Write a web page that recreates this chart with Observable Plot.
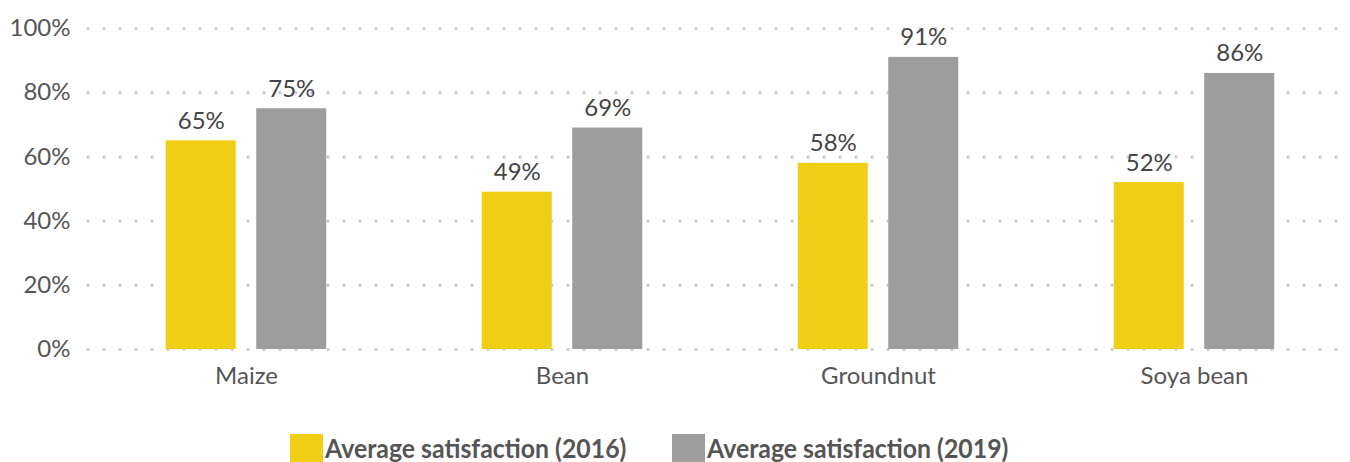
<!DOCTYPE html>
<html>
<head>
<meta charset="utf-8">
<script src="https://cdn.jsdelivr.net/npm/d3@7"></script>
<script src="https://cdn.jsdelivr.net/npm/@observablehq/plot@0.6"></script>
<style>
  html, body { margin: 0; padding: 0; background: #fff; }
  #chart { width: 1350px; }
  .legend { display: flex; align-items: flex-start; padding-left: 290px; margin-top: 24px; font-family: Lato, sans-serif; font-weight: bold; font-size: 27px; color: #555; }
  .legend .item { display: flex; align-items: center; width: 382px; white-space: nowrap; }
  .legend .sw { width: 33px; height: 28px; margin-right: 2px; flex: none; }
  .legend .tx { display: inline-block; transform: scaleX(0.92); transform-origin: left center; line-height: 28px; }
</style>
</head>
<body>
<div id="chart"></div>
<script>
const crops = ["Maize", "Bean", "Groundnut", "Soya bean"];
const series = ["Average satisfaction (2016)", "Average satisfaction (2019)"];
const values2016 = [65, 49, 58, 52];
const values2019 = [75, 69, 91, 86];
const colors = ["#F0CE15", "#9D9D9D"];
const yTicks = [0, 20, 40, 60, 80, 100];

const rows = [];
crops.forEach((c, i) => {
  rows.push({crop: c, series: series[0], value: values2016[i]});
  rows.push({crop: c, series: series[1], value: values2019[i]});
});
const r2016 = rows.filter(d => d.series === series[0]);
const r2019 = rows.filter(d => d.series === series[1]);
const off = 45.25;
const fs = 24;

const plot = Plot.plot({
  width: 1350,
  height: 410,
  marginTop: 28,
  marginBottom: 61,
  marginLeft: 88,
  marginRight: -2,
  style: {fontFamily: "Lato, sans-serif", fontSize: fs + "px", color: "#555", background: "#fff"},
  x: {domain: crops, paddingInner: 0.777, paddingOuter: 0.388},
  y: {domain: [0, 100]},
  color: {domain: series, range: colors},
  marks: [
    Plot.ruleY(yTicks, {stroke: "#c9c9c9", strokeWidth: 3.2, strokeDasharray: "0,16", strokeLinecap: "round"}),
    Plot.axisY({ticks: yTicks, tickFormat: d => d + "%", label: null, tickSize: 0, tickPadding: 18, fontSize: fs, fill: "#555"}),
    Plot.axisX({label: null, tickSize: 0, tickPadding: 17, fontSize: fs, fill: "#555"}),
    Plot.barY(r2016, {x: "crop", y: "value", fill: "series", dx: -off}),
    Plot.barY(r2019, {x: "crop", y: "value", fill: "series", dx: off}),
    Plot.text(r2016, {x: "crop", y: "value", text: d => d.value + "%", dx: -off, dy: -12, lineAnchor: "bottom", fill: "#444", fontSize: fs}),
    Plot.text(r2019, {x: "crop", y: "value", text: d => d.value + "%", dx: off, dy: -12, lineAnchor: "bottom", fill: "#444", fontSize: fs})
  ]
});
document.getElementById("chart").appendChild(plot);

const legend = document.createElement("div");
legend.className = "legend";
series.forEach((s, i) => {
  const item = document.createElement("div");
  item.className = "item";
  const sw = document.createElement("span");
  sw.className = "sw";
  sw.style.background = colors[i];
  const t = document.createElement("span");
  t.className = "tx";
  t.textContent = s;
  item.appendChild(sw);
  item.appendChild(t);
  legend.appendChild(item);
});
document.getElementById("chart").appendChild(legend);
</script>
</body>
</html>
